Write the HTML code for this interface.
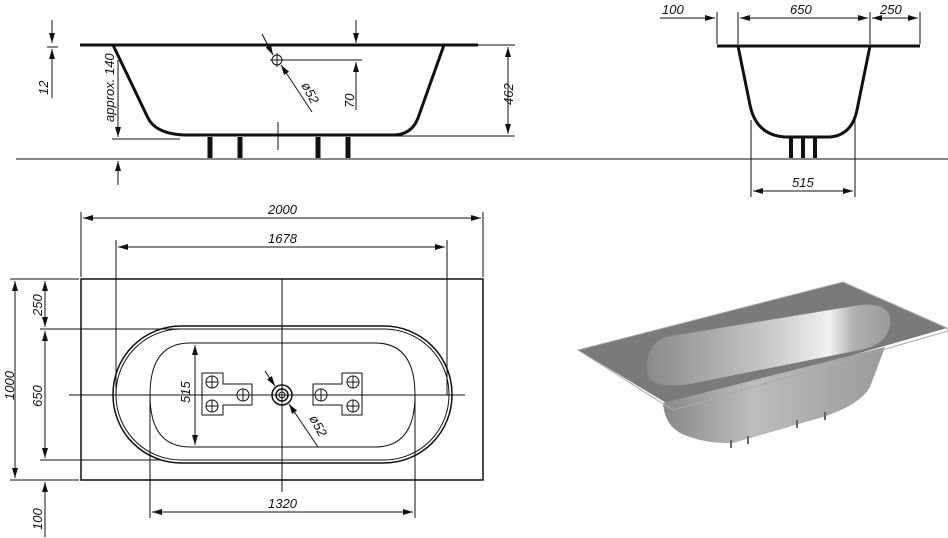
<!DOCTYPE html>
<html><head><meta charset="utf-8"><style>
html,body{margin:0;padding:0;background:#fff;}
svg{display:block;}
text{font-family:"Liberation Sans",sans-serif;font-style:italic;font-size:13px;fill:#111;}
</style></head><body>
<svg width="948" height="538" viewBox="0 0 948 538" xmlns="http://www.w3.org/2000/svg">
<defs>
<marker id="a" viewBox="0 0 10 6" refX="10" refY="3" markerWidth="10" markerHeight="6" orient="auto-start-reverse" markerUnits="userSpaceOnUse"><path d="M0,0 L10,3 L0,6 Z" fill="#111"/></marker>
<linearGradient id="g1" x1="0" y1="0" x2="1" y2="0"><stop offset="0" stop-color="#8a8a8a"/><stop offset="0.5" stop-color="#c8c8c8"/><stop offset="0.75" stop-color="#f0f0f0"/><stop offset="0.85" stop-color="#b0b0b0"/><stop offset="1" stop-color="#999"/></linearGradient>
<linearGradient id="g2" x1="0" y1="0" x2="1" y2="0"><stop offset="0" stop-color="#888"/><stop offset="0.4" stop-color="#bdbdbd"/><stop offset="1" stop-color="#9a9a9a"/></linearGradient>
</defs>
<g stroke="#111" fill="none" stroke-width="1">
<line x1="16" y1="159" x2="948" y2="159"/>
<line x1="80" y1="45" x2="515" y2="45"/>
<line x1="80" y1="45" x2="478" y2="45" stroke-width="3"/>
<path d="M113,45 L148,118 Q156,134 185,135 L395,135 Q412,134 418,118 L444,45" stroke-width="3"/>
<g stroke-width="5"><line x1="210" y1="137" x2="210" y2="158"/><line x1="240" y1="137" x2="240" y2="158"/><line x1="318" y1="137" x2="318" y2="158"/><line x1="348" y1="137" x2="348" y2="158"/></g>
<line x1="380" y1="136" x2="515" y2="136"/>
<line x1="112" y1="139" x2="180" y2="139"/>
<line x1="278" y1="122" x2="278" y2="150"/>
<circle cx="277" cy="60" r="5"/><line x1="270" y1="60" x2="362" y2="60"/><line x1="277" y1="53" x2="277" y2="67"/>
<line x1="262" y1="34" x2="273" y2="55" marker-end="url(#a)"/>
<line x1="312" y1="112" x2="281" y2="65" marker-end="url(#a)"/>
<line x1="508" y1="47" x2="508" y2="134" marker-start="url(#a)" marker-end="url(#a)"/>
<line x1="356" y1="20" x2="356" y2="43" marker-end="url(#a)"/>
<line x1="356" y1="110" x2="356" y2="62" marker-end="url(#a)"/>
<line x1="52" y1="20" x2="52" y2="43" marker-end="url(#a)"/>
<line x1="52" y1="98" x2="52" y2="49" marker-end="url(#a)"/>
<line x1="47" y1="47" x2="58" y2="47"/>
<line x1="118" y1="60" x2="118" y2="137" marker-end="url(#a)"/>
<line x1="118" y1="185" x2="118" y2="161" marker-end="url(#a)"/>
<line x1="717" y1="46" x2="920" y2="46" stroke-width="3"/>
<path d="M738,46 L750,105 Q756,135 785,137 L830,137 Q852,135 857,110 L870,46" stroke-width="3"/>
<g stroke-width="4"><line x1="791" y1="137" x2="791" y2="158"/><line x1="803" y1="137" x2="803" y2="158"/><line x1="815" y1="137" x2="815" y2="158"/></g>
<line x1="717" y1="12" x2="717" y2="44"/><line x1="738" y1="12" x2="738" y2="44"/><line x1="870" y1="12" x2="870" y2="44"/><line x1="920" y1="12" x2="920" y2="44"/>
<line x1="660" y1="18" x2="715" y2="18" marker-end="url(#a)"/>
<line x1="740" y1="18" x2="868" y2="18" marker-start="url(#a)" marker-end="url(#a)"/>
<line x1="872" y1="18" x2="918" y2="18" marker-start="url(#a)" marker-end="url(#a)"/>
<line x1="751" y1="120" x2="751" y2="197"/><line x1="855" y1="120" x2="855" y2="197"/>
<line x1="753" y1="191" x2="853" y2="191" marker-start="url(#a)" marker-end="url(#a)"/>
<rect x="81" y="279" width="402" height="201" stroke-width="1.5"/>
<line x1="81" y1="212" x2="81" y2="277"/><line x1="483" y1="212" x2="483" y2="277"/>
<line x1="83" y1="218" x2="481" y2="218" marker-start="url(#a)" marker-end="url(#a)"/>
<line x1="116" y1="240" x2="116" y2="395"/><line x1="447" y1="240" x2="447" y2="395"/>
<line x1="118" y1="247" x2="445" y2="247" marker-start="url(#a)" marker-end="url(#a)"/>
<rect x="113" y="326" width="339" height="137" rx="68" ry="68" stroke-width="1.5"/>
<rect x="116" y="329" width="333" height="131" rx="65" ry="65"/>
<path d="M190,343 L375,343 Q415,343 415,395 Q415,447 375,447 L190,447 Q150,447 150,395 Q150,343 190,343 Z"/>
<line x1="282" y1="279" x2="282" y2="492"/>
<line x1="69" y1="395" x2="465" y2="395"/>
<line x1="10" y1="279" x2="79" y2="279"/><line x1="10" y1="480" x2="79" y2="480"/>
<line x1="40" y1="329" x2="300" y2="329"/><line x1="40" y1="460" x2="160" y2="460"/>
<line x1="15" y1="281" x2="15" y2="478" marker-start="url(#a)" marker-end="url(#a)"/>
<line x1="45" y1="281" x2="45" y2="327" marker-start="url(#a)" marker-end="url(#a)"/>
<line x1="45" y1="331" x2="45" y2="458" marker-start="url(#a)" marker-end="url(#a)"/>
<line x1="45" y1="537" x2="45" y2="482" marker-end="url(#a)"/>
<line x1="195" y1="345" x2="195" y2="445" marker-start="url(#a)" marker-end="url(#a)"/>
<line x1="150" y1="395" x2="150" y2="518"/><line x1="415" y1="395" x2="415" y2="518"/>
<line x1="152" y1="512" x2="413" y2="512" marker-start="url(#a)" marker-end="url(#a)"/>
<path d="M202,373 H223 V384 H252 V405 H223 V415 H202 Z"/>
<path d="M362,373 H342 V384 H313 V405 H342 V415 H362 Z"/>
<g><circle cx="212" cy="382" r="6"/><circle cx="212" cy="406" r="6"/><circle cx="243" cy="395" r="6"/><circle cx="353" cy="382" r="6"/><circle cx="353" cy="406" r="6"/><circle cx="321" cy="395" r="6"/>
<path d="M206,382h12M212,376v12M206,406h12M212,400v12M237,395h12M243,389v12M347,382h12M353,376v12M347,406h12M353,400v12M315,395h12M321,389v12"/></g>
<circle cx="282" cy="395" r="10" stroke-width="1.5"/><circle cx="282" cy="395" r="6" stroke-width="1.5"/><circle cx="282" cy="395" r="3"/>
<line x1="265" y1="371" x2="275" y2="386" marker-end="url(#a)"/>
<line x1="318" y1="447" x2="289" y2="404" marker-end="url(#a)"/>
</g>
<text transform="translate(513,105) rotate(-90)">462</text>
<text transform="translate(354,108) rotate(-90)">70</text>
<text transform="translate(48,95) rotate(-90)">12</text>
<text transform="translate(114,122) rotate(-90)">approx. 140</text>
<text transform="translate(301,85) rotate(62)">ø52</text>
<text x="662" y="14">100</text><text x="790" y="14">650</text><text x="880" y="14">250</text>
<text x="792" y="187">515</text>
<text x="268" y="214">2000</text><text x="268" y="243">1678</text><text x="268" y="508">1320</text>
<text transform="translate(14,400) rotate(-90)">1000</text>
<text transform="translate(42,316) rotate(-90)">250</text>
<text transform="translate(42,407) rotate(-90)">650</text>
<text transform="translate(42,530) rotate(-90)">100</text>
<text transform="translate(190,403) rotate(-90)">515</text>
<text transform="translate(309,418) rotate(62)">ø52</text>
<polygon points="578,350 843,282 947,328 673,407" fill="#7a7a7a"/>
<path d="M663,403 Q665,430 690,437 Q710,444 733,443 L823,417 Q860,405 870,387 L885,347 Z" fill="url(#g2)"/>
<polygon points="578,350 843,282 947,328 948,331 673,410" fill="none" stroke="#aaa" stroke-width="1"/>
<path d="M665,337 L860,305 Q893,302 890,325 Q887,345 860,350 L690,384 Q650,390 647,372 Q645,345 665,337 Z" fill="url(#g1)"/>
<g stroke="#666" stroke-width="2"><line x1="731" y1="440" x2="731" y2="448"/><line x1="748" y1="436" x2="748" y2="444"/><line x1="797" y1="420" x2="797" y2="428"/><line x1="825" y1="412" x2="825" y2="420"/></g>
</svg>
</body></html>
